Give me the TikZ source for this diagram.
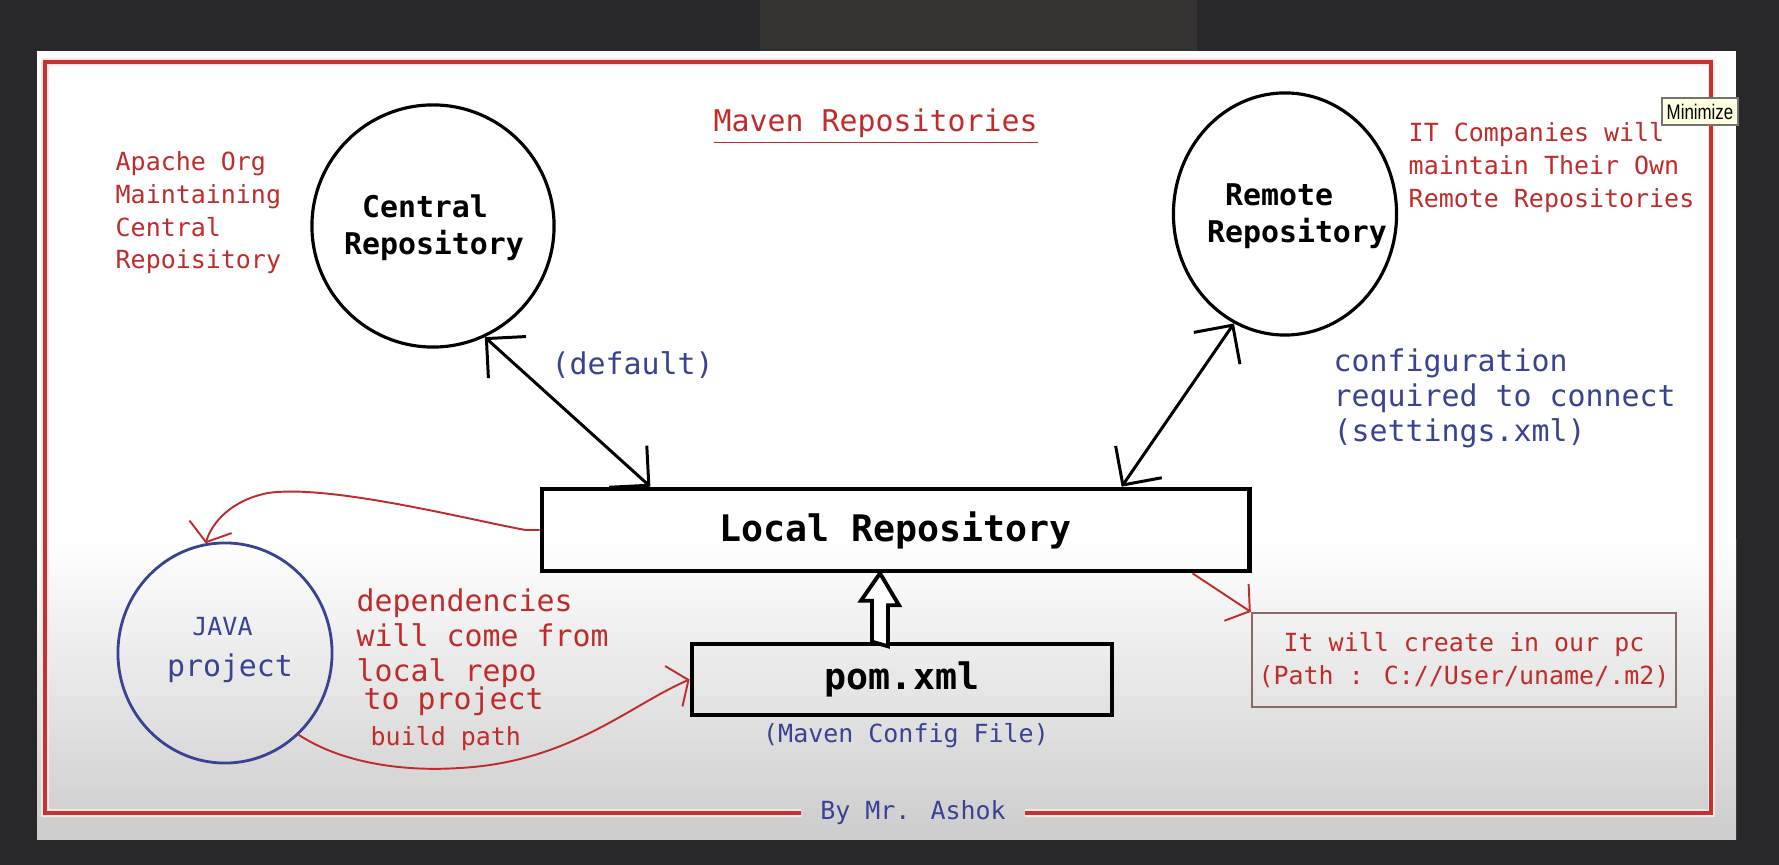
\documentclass[tikz,border=0pt]{standalone}
\usepackage{fontspec}
\usepackage{xcolor}
\newfontfamily\consola{DejaVu Sans Mono}
\newfontfamily\uifont[FakeStretch=0.8]{Liberation Sans}
\definecolor{bgdark}{RGB}{40,40,42}
\definecolor{bgpatch}{RGB}{52,50,48}
\definecolor{figred}{RGB}{192,44,44}
\definecolor{figblue}{RGB}{58,66,146}
\definecolor{framered}{RGB}{196,50,50}
\definecolor{boxgray}{RGB}{140,105,105}
\definecolor{tipyellow}{RGB}{255,255,225}
\usepackage{tikz}
\usetikzlibrary{shapes.geometric,arrows.meta,positioning,calc}

\begin{document}
\begin{tikzpicture}[x=0.01cm,y=-0.01cm,
  >={Straight Barb[length=2.8mm,width=5.6mm]},
  txt/.style={font=\consola\fontsize{8.5}{10}\selectfont,inner sep=0pt,align=left},
  txtsm/.style={font=\consola\fontsize{7.1}{9.3}\selectfont,inner sep=0pt,align=left},
  repo/.style={draw,line width=0.9pt,inner sep=0pt},
  blk/.style={draw,line width=1.3pt,font=\consola\bfseries\fontsize{10.4}{12}\selectfont},
  lnk/.style={<->,line width=0.85pt},
  dep/.style={-{Straight Barb[length=1.6mm,width=4.4mm]},figred,line width=0.55pt}]
% screen and sheet
\fill[bgdark] (0,0) rectangle (1779,865);
\fill[bgpatch] (760,0) rectangle (1197,51);
\fill[white] (37,51) rectangle (1736,840);
\shade[top color=white,bottom color=black!20] (37,540) rectangle (1736,840);
% frame, broken by the signature
\node[txtsm,text=figblue,inner xsep=0.19cm] (sign) at (913,813) {By Mr. Ashok};
\draw[framered!12,line width=2pt] (sign.east) -| (1711,62) -| (45,813) -- (sign.west);
\draw[framered,line width=1.1pt] (sign.east) -| (1711,62) -| (45,813) -- (sign.west);
\node[txt,text=figred,anchor=north west] (title) at (713,108) {\underline{Maven Repositories}};
% repositories
\node[repo,circle,minimum size=2.42cm] (central) at (433,226) {};
\node[txt,font=\consola\bfseries\fontsize{8.5}{10.5}\selectfont,align=center] (centraltxt) at (434,228) {Central\phantom{x}\\Repository};
\node[repo,ellipse,minimum width=2.23cm,minimum height=2.42cm] (remote) at (1285,214) {};
\node[txt,font=\consola\bfseries\fontsize{8.5}{10.5}\selectfont,align=center] (remotetxt) at (1297,216) {Remote\phantom{xx}\\Repository};
\node[blk,minimum width=7.07cm,minimum height=0.82cm] (local) at (895.5,530) {Local Repository};
\node[blk,minimum width=4.20cm,minimum height=0.71cm] (pom) at (902,679.5) {pom.xml};
\node[txtsm,text=figblue] (pomnote) at (906,736) {(Maven Config File)};
\node[repo,ellipse,draw=figblue,line width=0.8pt,minimum width=2.14cm,minimum height=2.20cm] (java) at (225,653) {};
\node[txt,text=figblue,font=\consola\fontsize{8.5}{11.4}\selectfont,align=center] (javatxt) at (230,650) {{\fontsize{7.1}{11.4}\selectfont JAVA\phantom{x}}\\project};
\node[txtsm,draw=boxgray,line width=0.6pt,minimum width=4.24cm,minimum height=0.94cm,text=figred,align=center] (create) at (1464,660) {It will create in our pc\\(Path : C://User/uname/.m2)};
% notes
\node[txtsm,text=figred,anchor=north west] (apache) at (115,151) {Apache Org\\Maintaining\\Central\\Repoisitory};
\node[txtsm,text=figred,anchor=north west] (itco) at (1408,122) {IT Companies will\\maintain Their Own\\Remote Repositories};
\node[txt,text=figblue,anchor=west] (dflt) at (551,365) {(default)};
\node[txt,text=figblue,anchor=north west] (conf) at (1333,348) {configuration\\required to connect\\(settings.xml)};
\node[txt,text=figred,anchor=north west] (deps) at (356,588) {dependencies\\will come from\\local repo\\[-2pt]\hspace*{0.07cm}to project\\{\fontsize{7.1}{9}\selectfont\hspace*{0.14cm}build path}};
% connectors
\draw[lnk] (central.-65) -- ([xshift=-2.45cm]local.north);
\draw[lnk] (remote.-115) -- ([xshift=2.26cm]local.north);
\coordinate (push) at ($(pom.north)+(-22,0)$);
\draw[line width=1.1pt,fill=white] ($(push)+(-8,0)$) -- ++(0,-41) -- ++(-11,0) -- (push |- local.south) -- ++(19,32) -- ++(-11,0) -- ++(0,41) -- cycle;
\draw[dep] (local.west) -- ++(-14,0) .. controls (470,520) and (330,484) .. (268,493) .. controls (232,500) and (212,522) .. (java.100);
\draw[dep] (java.-48) .. controls (340,762) and (400,772) .. (460,768) .. controls (570,762) and (630,705) .. (pom.west);
\draw[dep] ([xshift=-0.59cm]local.south east) -- (create.north west);
% tooltip
\node[draw=black!55,fill=tipyellow,line width=0.4pt,minimum width=0.76cm,minimum height=0.27cm,inner sep=0pt,font=\uifont\fontsize{6}{7}\selectfont] (tip) at (1700,111.5) {Minimize};
\end{tikzpicture}
\end{document}
